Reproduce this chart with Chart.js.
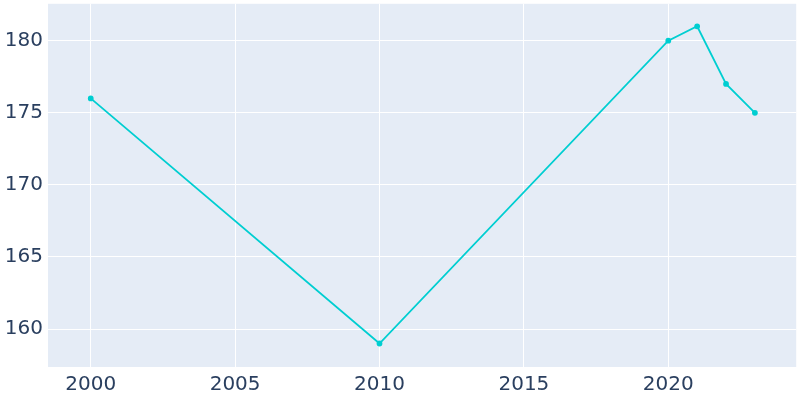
<!DOCTYPE html>
<html>
<head>
<meta charset="utf-8">
<script src="https://cdn.jsdelivr.net/npm/chart.js@4/dist/chart.umd.min.js"></script>
<style>
  html, body { margin: 0; padding: 0; background: #fff; }
  #wrap { width: 800px; height: 400px; }
</style>
</head>
<body>
<div id="wrap"><canvas id="chart"></canvas></div>
<script>
// Population by year
const years = [2000, 2010, 2020, 2021, 2022, 2023];
const population = [176, 159, 180, 181, 177, 175];

const xTicks = [2000, 2005, 2010, 2015, 2020];
const yTicks = [160, 165, 170, 175, 180];

// Plot background like plotly
const plotBg = {
  id: "plotBg",
  beforeDraw(chart) {
    const { ctx, chartArea: a } = chart;
    ctx.save();
    ctx.fillStyle = "#E5ECF6";
    ctx.fillRect(a.left, a.top, a.right - a.left, a.bottom - a.top);
    ctx.restore();
  }
};

const tickFont = { family: "DejaVu Sans", size: 20 };

new Chart(document.getElementById("chart"), {
  type: "line",
  data: {
    datasets: [{
      data: years.map((y, i) => ({ x: y, y: population[i] })),
      borderColor: "#00CED1",
      backgroundColor: "#00CED1",
      borderWidth: 1.8,
      pointRadius: 2,
      pointHoverRadius: 2,
      tension: 0
    }]
  },
  options: {
    responsive: true,
    maintainAspectRatio: false,
    animation: false,
    layout: { padding: { top: 3, right: 3, left: 0, bottom: 0 } },
    plugins: { legend: { display: false }, tooltip: { enabled: false } },
    scales: {
      x: {
        type: "linear",
        min: 1998.52,
        max: 2024.43,
        afterBuildTicks: (s) => { s.ticks = xTicks.map((v) => ({ value: v })); },
        afterFit: (s) => { s.height = 33; s.paddingLeft = 0; s.paddingRight = 0; },
        border: { display: false },
        grid: { color: "#ffffff", lineWidth: 1, drawTicks: false },
        ticks: { color: "#2a3f5f", font: tickFont, padding: 6, maxRotation: 0, callback: (v) => String(v) }
      },
      y: {
        min: 157.37,
        max: 182.56,
        afterBuildTicks: (s) => { s.ticks = yTicks.map((v) => ({ value: v })); },
        afterFit: (s) => { s.width = 48; s.paddingTop = 0; s.paddingBottom = 0; },
        border: { display: false },
        grid: { color: "#ffffff", lineWidth: 1, drawTicks: false },
        ticks: { color: "#2a3f5f", font: tickFont, padding: 5, callback: (v) => String(v) }
      }
    }
  },
  plugins: [plotBg]
});
</script>
</body>
</html>
